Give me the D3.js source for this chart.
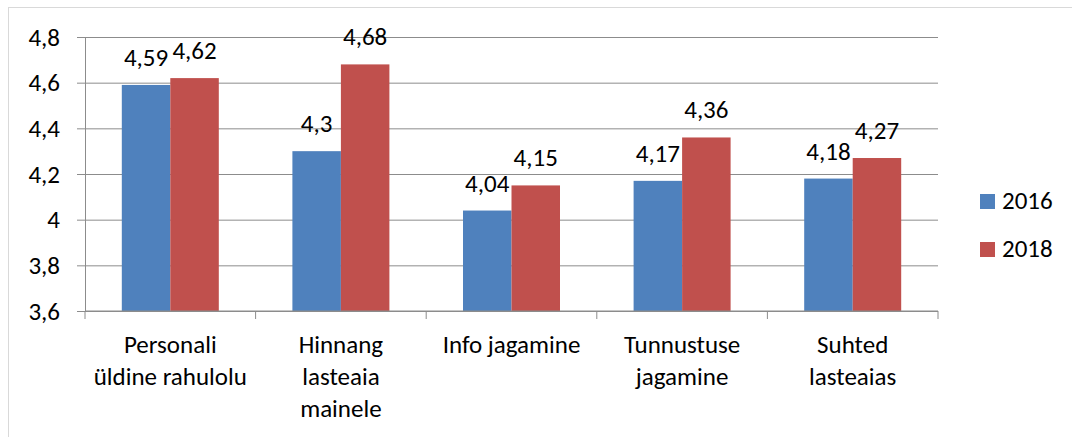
<html>
<head>
<meta charset="utf-8">
<style>
  body { margin: 0; background: #fff; }
  svg { font-family: Carlito, Calibri, Lato, sans-serif; }
</style>
</head>
<body>
<div id="chart"></div>
<script src="https://cdn.jsdelivr.net/npm/d3@7"></script>
<script>
var categories = ["Personali\nüldine rahulolu", "Hinnang\nlasteaia\nmainele", "Info jagamine", "Tunnustuse\njagamine", "Suhted\nlasteaias"];
var seriesNames = ["2016", "2018"];
var values2016 = [4.59, 4.3, 4.04, 4.17, 4.18];
var values2018 = [4.62, 4.68, 4.15, 4.36, 4.27];
var yTicks = [3.6, 3.8, 4, 4.2, 4.4, 4.6, 4.8];
var colors = ["#4f81bd", "#c0504d"];

var width = 1072, height = 437;
var mLeft = 85, mRight = 938, mTop = 37, mBottom = 311;
var fontSize = 25;

var svg = d3.select("#chart").append("svg")
  .attr("width", width).attr("height", height);

// chart frame
svg.append("rect")
  .attr("x", 8.5).attr("y", 7.5)
  .attr("width", width + 20).attr("height", height + 20)
  .attr("fill", "none").attr("stroke", "#d9d9d9");

var fmt = v => String(v).replace(".", ",");

var x0 = d3.scaleBand().domain(categories).range([mLeft, mRight]);
var x1 = d3.scaleBand().domain(seriesNames)
  .range([36.8, x0.bandwidth() - 36.8]);
var y = d3.scaleLinear().domain([3.6, 4.8]).range([mBottom, mTop]);

// gridlines
svg.append("g")
  .attr("transform", "translate(" + mLeft + ",0)")
  .call(d3.axisLeft(y).tickValues(yTicks).tickSize(-(mRight - mLeft)).tickFormat(""))
  .call(g => g.select(".domain").remove())
  .selectAll("line").attr("stroke", "#8c8c8c");

// y axis
var yAxis = svg.append("g")
  .attr("transform", "translate(" + mLeft + ",0)")
  .call(d3.axisLeft(y).tickValues(yTicks).tickSize(8).tickSizeOuter(0).tickPadding(17).tickFormat(fmt));
yAxis.attr("font-family", null).attr("font-size", null);
yAxis.select(".domain").attr("stroke", "#8c8c8c");
yAxis.selectAll("line").attr("stroke", "#8c8c8c");
yAxis.selectAll("text").attr("font-size", fontSize).attr("fill", "#000");

var rows = categories.map((c, i) => ({cat: c, vals: [values2016[i], values2018[i]]}));

var groups = svg.append("g").selectAll("g")
  .data(rows).join("g")
  .attr("transform", d => "translate(" + x0(d.cat) + ",0)");

groups.selectAll("rect")
  .data(d => d.vals.map((v, j) => ({name: seriesNames[j], v: v, j: j})))
  .join("rect")
  .attr("x", d => x1(d.name))
  .attr("y", d => y(d.v))
  .attr("width", x1.bandwidth())
  .attr("height", d => y(3.6) - y(d.v))
  .attr("fill", d => colors[d.j]);

groups.selectAll("text.val")
  .data(d => d.vals.map((v, j) => ({name: seriesNames[j], v: v})))
  .join("text")
  .attr("class", "val")
  .attr("x", d => x1(d.name) + x1.bandwidth() / 2)
  .attr("y", d => y(d.v) - 19)
  .attr("text-anchor", "middle")
  .attr("font-size", fontSize)
  .text(d => fmt(d.v));

// x axis
var xAxis = svg.append("g").attr("transform", "translate(0," + mBottom + ")");
xAxis.append("line")
  .attr("x1", mLeft).attr("x2", mRight)
  .attr("stroke", "#8c8c8c");
xAxis.selectAll("line.tick")
  .data(categories.map(c => x0(c)).concat([mRight]))
  .join("line")
  .attr("class", "tick")
  .attr("x1", d => d).attr("x2", d => d)
  .attr("y1", 0).attr("y2", 8)
  .attr("stroke", "#8c8c8c");

xAxis.selectAll("text")
  .data(categories).join("text")
  .attr("text-anchor", "middle")
  .attr("font-size", fontSize)
  .each(function(c) {
    var t = d3.select(this);
    c.split("\n").forEach((line, i) => {
      t.append("tspan")
        .attr("x", x0(c) + x0.bandwidth() / 2)
        .attr("y", 42 + i * 32)
        .text(line);
    });
  });

// legend
var legend = svg.append("g").selectAll("g")
  .data(seriesNames).join("g")
  .attr("transform", (d, i) => "translate(980," + (194 + i * 48) + ")");
legend.append("rect")
  .attr("width", 15).attr("height", 15)
  .attr("fill", (d, i) => colors[i]);
legend.append("text")
  .attr("x", 22).attr("y", 15)
  .attr("font-size", fontSize)
  .text(d => d);
</script>
</body>
</html>
